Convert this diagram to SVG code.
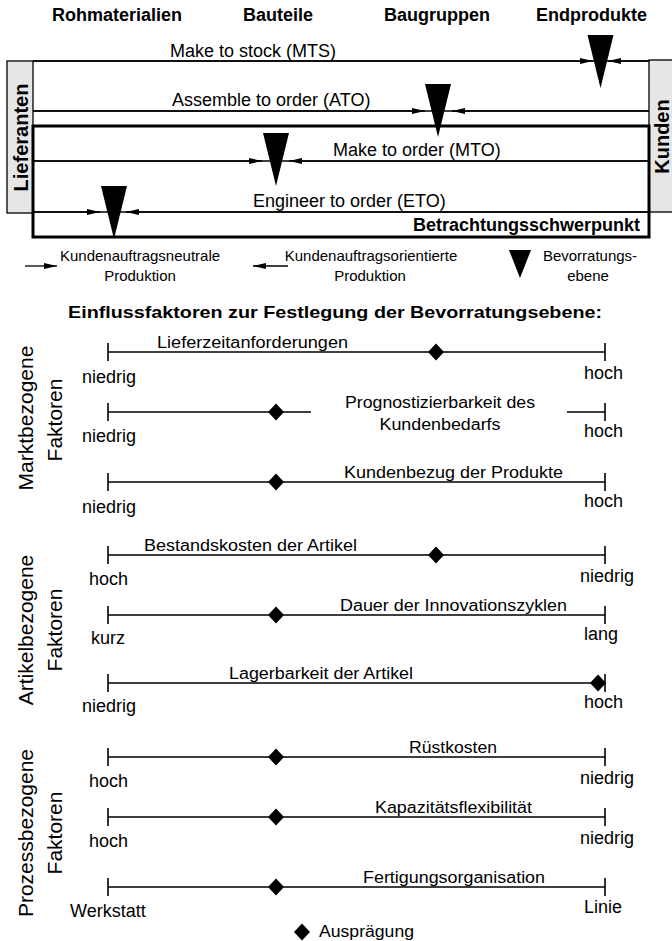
<svg xmlns="http://www.w3.org/2000/svg" width="672" height="941" viewBox="0 0 672 941">
  <defs>
    <marker id="ah" markerWidth="13" markerHeight="6" refX="13" refY="3" orient="auto" markerUnits="userSpaceOnUse">
      <path d="M0,0 L13,3 L0,6 z" fill="#000"/>
    </marker>
    <path id="dia" d="M0,-8.5 L8,0 L0,8.5 L-8,0 z" fill="#000"/>
    <path id="tri" d="M-13,0 L13,0 L0,53 z" fill="#000"/>
  </defs>
  <style>
    text { font-family: "Liberation Sans", Arial, sans-serif; fill: #000; }
    .hd { font-size: 18px; font-weight: bold; }
    .vt { font-size: 20px; font-weight: bold; }
    .t18 { font-size: 18px; }
    .lg { font-size: 15px; }
    .side { font-size: 21px; }
    .lbl { font-size: 16px; }
    .ln { stroke: #000; stroke-width: 1.3; fill: none; }
    .arr { stroke: #000; stroke-width: 1.3; fill: none; marker-end: url(#ah); }
    .sc { stroke: #000; stroke-width: 1.6; fill: none; }
    .sbox { fill: #e6e6e6; stroke: #000; stroke-width: 1.3; }
  </style>
  <rect width="672" height="941" fill="#fff"/>

  <!-- column headers -->
  <g id="headers">
    <text class="hd" x="52" y="21">Rohmaterialien</text>
    <text class="hd" x="243" y="21">Bauteile</text>
    <text class="hd" x="384" y="21">Baugruppen</text>
    <text class="hd" x="536" y="21">Endprodukte</text>
  </g>

  <!-- supplier / customer boxes -->
  <g id="lieferanten">
    <rect class="sbox" x="7" y="61" width="26" height="152"/>
    <text class="vt" text-anchor="middle" transform="translate(27.5,137.5) rotate(-90)">Lieferanten</text>
  </g>
  <g id="kunden">
    <rect class="sbox" x="649" y="60" width="28" height="152"/>
    <text class="vt" text-anchor="middle" transform="translate(669,136.5) rotate(-90)">Kunden</text>
  </g>

  <!-- focus frame -->
  <g id="schwerpunkt">
    <rect x="33" y="126" width="616" height="111" fill="none" stroke="#000" stroke-width="3"/>
    <text class="hd" x="640" y="231" text-anchor="end">Betrachtungsschwerpunkt</text>
  </g>

  <!-- order strategy lines -->
  <g id="connectors">
    <line class="ln" x1="33" y1="61" x2="649" y2="61"/>
    <line class="arr" x1="33" y1="61" x2="593" y2="61"/>
    <line class="arr" x1="649" y1="61" x2="608" y2="61"/>

    <line class="ln" x1="33" y1="111" x2="649" y2="111"/>
    <line class="arr" x1="33" y1="111" x2="425" y2="111"/>
    <line class="arr" x1="649" y1="111" x2="452" y2="111"/>

    <line class="ln" x1="33" y1="161" x2="649" y2="161"/>
    <line class="arr" x1="33" y1="161" x2="262" y2="161"/>
    <line class="arr" x1="649" y1="161" x2="289" y2="161"/>

    <line class="ln" x1="33" y1="212" x2="649" y2="212"/>
    <line class="arr" x1="33" y1="212" x2="100" y2="212"/>
    <line class="arr" x1="649" y1="212" x2="126" y2="212"/>
  </g>

  <g id="mts">
    <text class="t18" x="170" y="57">Make to stock (MTS)</text>
    <use href="#tri" x="600.5" y="35"/>
  </g>
  <g id="ato">
    <text class="t18" x="172" y="106">Assemble to order (ATO)</text>
    <use href="#tri" x="438" y="84"/>
  </g>
  <g id="mto">
    <text class="t18" x="333" y="156">Make to order (MTO)</text>
    <use href="#tri" x="276" y="133"/>
  </g>
  <g id="eto">
    <text class="t18" x="253" y="207">Engineer to order (ETO)</text>
    <use href="#tri" x="114" y="186"/>
  </g>

  <!-- legend -->
  <g id="legende-oben">
    <line class="arr" x1="25" y1="266" x2="57" y2="266"/>
    <text class="lg" x="140" y="261" text-anchor="middle">Kundenauftragsneutrale</text>
    <text class="lg" x="140" y="281" text-anchor="middle">Produktion</text>
    <line class="arr" x1="288" y1="266" x2="253" y2="266"/>
    <text class="lg" x="371" y="261" text-anchor="middle">Kundenauftragsorientierte</text>
    <text class="lg" x="370" y="281" text-anchor="middle">Produktion</text>
    <path d="M509,250 L531,250 L520,278 z" fill="#000"/>
    <text class="lg" x="590" y="261" text-anchor="middle">Bevorratungs-</text>
    <text class="lg" x="588" y="281" text-anchor="middle">ebene</text>
  </g>

  <!-- influencing factors -->
  <text class="hd" style="font-size:17px" x="335" y="318" text-anchor="middle" textLength="534" lengthAdjust="spacingAndGlyphs">Einflussfaktoren zur Festlegung der Bevorratungsebene:</text>

  <g id="markt">
    <text class="side" text-anchor="middle" transform="translate(33,418) rotate(-90)">Marktbezogene</text>
    <text class="side" text-anchor="middle" transform="translate(62,420) rotate(-90)">Faktoren</text>
  </g>
  <g id="artikel">
    <text class="side" text-anchor="middle" transform="translate(33,630) rotate(-90)">Artikelbezogene</text>
    <text class="side" text-anchor="middle" transform="translate(62,630) rotate(-90)">Faktoren</text>
  </g>
  <g id="prozess">
    <text class="side" text-anchor="middle" transform="translate(33,833) rotate(-90)">Prozessbezogene</text>
    <text class="side" text-anchor="middle" transform="translate(62,833) rotate(-90)">Faktoren</text>
  </g>

  <g id="lieferzeit">
    <path class="sc" d="M108,343 V361 M108,352 H605 M605,343 V361"/>
    <use href="#dia" x="436" y="352"/>
    <text class="lbl" x="157" y="348" textLength="191" lengthAdjust="spacingAndGlyphs">Lieferzeitanforderungen</text>
    <text class="t18" x="82" y="383">niedrig</text>
    <text class="t18" x="584" y="379">hoch</text>
  </g>
  <g id="prognose">
    <path class="sc" d="M108,403 V421 M108,412 H311 M567,412 H605 M605,403 V421"/>
    <use href="#dia" x="276" y="412"/>
    <text class="lbl" x="440" y="408" text-anchor="middle" textLength="190" lengthAdjust="spacingAndGlyphs">Prognostizierbarkeit des</text>
    <text class="lbl" x="440" y="430" text-anchor="middle" textLength="121" lengthAdjust="spacingAndGlyphs">Kundenbedarfs</text>
    <text class="t18" x="82" y="442">niedrig</text>
    <text class="t18" x="584" y="437">hoch</text>
  </g>
  <g id="kundenbezug">
    <path class="sc" d="M108,473 V491 M108,482 H605 M605,473 V491"/>
    <use href="#dia" x="276" y="482"/>
    <text class="lbl" x="344" y="478" textLength="219" lengthAdjust="spacingAndGlyphs">Kundenbezug der Produkte</text>
    <text class="t18" x="82" y="513">niedrig</text>
    <text class="t18" x="584" y="507">hoch</text>
  </g>
  <g id="bestandskosten">
    <path class="sc" d="M108,546 V564 M108,555 H605 M605,546 V564"/>
    <use href="#dia" x="436" y="555"/>
    <text class="lbl" x="144" y="551" textLength="213" lengthAdjust="spacingAndGlyphs">Bestandskosten der Artikel</text>
    <text class="t18" x="89" y="585">hoch</text>
    <text class="t18" x="580" y="582">niedrig</text>
  </g>
  <g id="innovation">
    <path class="sc" d="M108,606 V624 M108,615 H605 M605,606 V624"/>
    <use href="#dia" x="276" y="615"/>
    <text class="lbl" x="340" y="611" textLength="227" lengthAdjust="spacingAndGlyphs">Dauer der Innovationszyklen</text>
    <text class="t18" x="91" y="644">kurz</text>
    <text class="t18" x="584" y="640">lang</text>
  </g>
  <g id="lagerbarkeit">
    <path class="sc" d="M108,674 V692 M108,683 H605 M605,674 V692"/>
    <use href="#dia" x="598" y="683"/>
    <text class="lbl" x="229" y="679" textLength="184" lengthAdjust="spacingAndGlyphs">Lagerbarkeit der Artikel</text>
    <text class="t18" x="82" y="712">niedrig</text>
    <text class="t18" x="584" y="708">hoch</text>
  </g>
  <g id="ruestkosten">
    <path class="sc" d="M108,748 V766 M108,757 H605 M605,748 V766"/>
    <use href="#dia" x="276" y="757"/>
    <text class="lbl" x="409" y="753" textLength="88" lengthAdjust="spacingAndGlyphs">Rüstkosten</text>
    <text class="t18" x="89" y="787">hoch</text>
    <text class="t18" x="580" y="784">niedrig</text>
  </g>
  <g id="kapazitaet">
    <path class="sc" d="M108,808 V826 M108,817 H605 M605,808 V826"/>
    <use href="#dia" x="276" y="817"/>
    <text class="lbl" x="375" y="813" textLength="157" lengthAdjust="spacingAndGlyphs">Kapazitätsflexibilität</text>
    <text class="t18" x="89" y="847">hoch</text>
    <text class="t18" x="580" y="844">niedrig</text>
  </g>
  <g id="fertigung">
    <path class="sc" d="M108,878 V896 M108,887 H605 M605,878 V896"/>
    <use href="#dia" x="276" y="887"/>
    <text class="lbl" x="363" y="883" textLength="182" lengthAdjust="spacingAndGlyphs">Fertigungsorganisation</text>
    <text class="t18" x="70" y="917">Werkstatt</text>
    <text class="t18" x="584" y="913">Linie</text>
  </g>

  <g id="legende-unten">
    <use href="#dia" x="302" y="932"/>
    <text class="lbl" x="319" y="937" textLength="95" lengthAdjust="spacingAndGlyphs">Ausprägung</text>
  </g>
</svg>
